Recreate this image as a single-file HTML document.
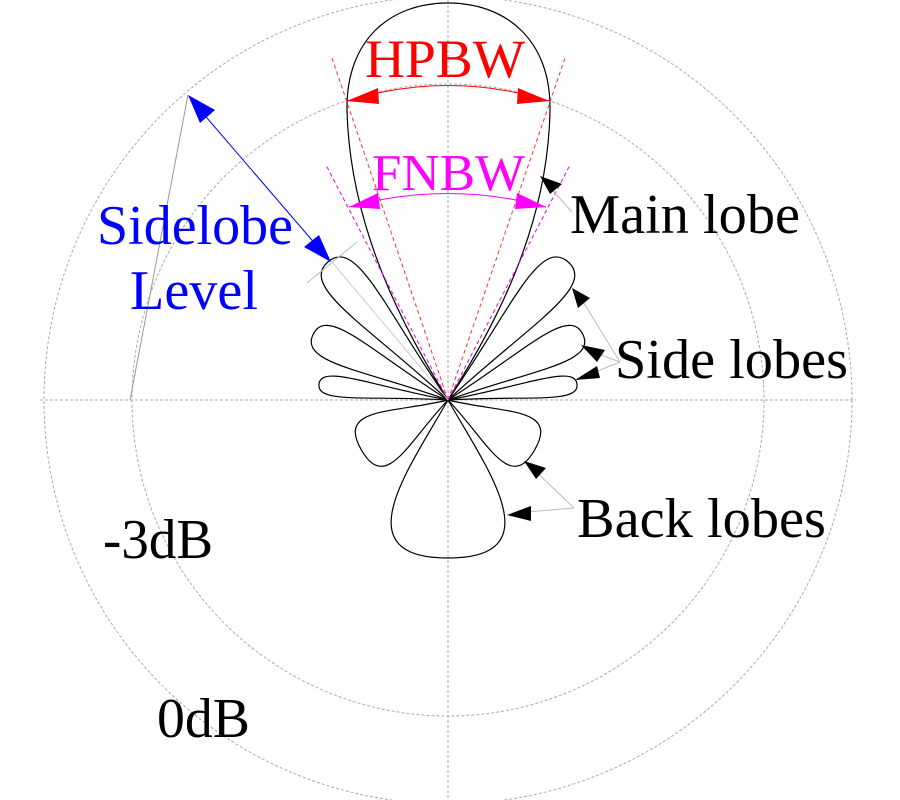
<!DOCTYPE html>
<html><head><meta charset="utf-8"><style>
html,body{margin:0;padding:0;background:#fff;}
svg{display:block;}
text{font-family:"Liberation Serif",serif;}
</style></head><body>
<svg width="900" height="800" viewBox="0 0 900 800" xmlns="http://www.w3.org/2000/svg">
<g fill="none" stroke="#aaa" stroke-width="1" stroke-dasharray="3,2">
<circle cx="448" cy="400" r="404"/>
<circle cx="448" cy="400" r="316"/>
<line x1="40" y1="400" x2="856" y2="400"/>
<line x1="448" y1="0" x2="448" y2="800"/>
</g>
<g fill="none" stroke="#000" stroke-width="1.2">
<path d="M448,400 C405,330 350,230 347,110 C346,40 390,3 448,3 C506,3 551,40 550,110 C548,230 492,330 448,400 Z"/>
<g transform="translate(448,400)">
<path transform="rotate(-131)" d="M0,0 C110,-12 183,-38 183,0 C183,38 110,12 0,0Z"/>
<path transform="rotate(-49)" d="M0,0 C110,-12 183,-38 183,0 C183,38 110,12 0,0Z"/>
<path transform="rotate(-154)" d="M0,0 C90,-10 150,-32 150,0 C150,32 90,10 0,0Z"/>
<path transform="rotate(-26)" d="M0,0 C90,-10 150,-32 150,0 C150,32 90,10 0,0Z"/>
<path transform="rotate(-173)" d="M0,0 C80,-5 130,-20 130,0 C130,20 80,5 0,0Z"/>
<path transform="rotate(-7)" d="M0,0 C80,-5 130,-20 130,0 C130,20 80,5 0,0Z"/>
<path transform="rotate(150)" d="M0,0 C55,-16 100,-50 100,0 C100,50 55,16 0,0Z"/>
<path transform="rotate(30)" d="M0,0 C55,-16 100,-50 100,0 C100,50 55,16 0,0Z"/>
<path transform="rotate(90)" d="M0,0 C70,-40 158,-105 158,0 C158,105 70,40 0,0Z"/>
</g>
</g>
<g fill="none" stroke-width="1" stroke-dasharray="4,3">
<line x1="448" y1="400" x2="332" y2="58" stroke="#f33"/>
<line x1="448" y1="400" x2="565" y2="58" stroke="#f33"/>
<line x1="448" y1="400" x2="326" y2="165" stroke="#e0e"/>
<line x1="448" y1="400" x2="570" y2="165" stroke="#e0e"/>
</g>
<path d="M347,101 Q448,70 549,101" fill="none" stroke="#f00" stroke-width="1"/>
<path d="M347,101 L378,88 L379,104Z" fill="#f00"/>
<path d="M549,101 L518,88 L517,104Z" fill="#f00"/>
<text x="365" y="77" font-size="54" fill="#f00" textLength="160" lengthAdjust="spacingAndGlyphs">HPBW</text>
<path d="M349,207 Q448,180 546,207" fill="none" stroke="#f0f" stroke-width="1"/>
<path d="M349,207 L378,193 L380,209Z" fill="#f0f"/>
<path d="M546,207 L517,193 L515,209Z" fill="#f0f"/>
<text x="372" y="190" font-size="52" fill="#f0f" textLength="153" lengthAdjust="spacingAndGlyphs">FNBW</text>
<line x1="188" y1="95" x2="130" y2="400" stroke="#999" stroke-width="1"/>
<line x1="307" y1="283" x2="357" y2="242" stroke="#bbb" stroke-width="1"/>
<line x1="448" y1="400" x2="332" y2="262" stroke="#ccc" stroke-width="1"/>
<line x1="195" y1="104" x2="323" y2="253" stroke="#00f" stroke-width="1"/>
<path d="M188,95 L215,110 L200,123Z" fill="#00f"/>
<path d="M331,262 L304,247 L319,235Z" fill="#00f"/>
<text x="97" y="244" font-size="56" fill="#00f" textLength="196" lengthAdjust="spacingAndGlyphs">Sidelobe</text>
<text x="130" y="309" font-size="56" fill="#00f" textLength="128" lengthAdjust="spacingAndGlyphs">Level</text>
<g stroke="#bbb" stroke-width="1" fill="none">
<line x1="572" y1="212" x2="545" y2="182"/>
<line x1="620" y1="362" x2="577" y2="292"/>
<line x1="620" y1="362" x2="588" y2="350"/>
<line x1="620" y1="362" x2="583" y2="377"/>
<line x1="574" y1="508" x2="530" y2="466"/>
<line x1="574" y1="508" x2="515" y2="513"/>
</g>
<g fill="#000">
<path d="M540,176 L562,184 L550,194Z"/>
<path d="M572,288 L590,298 L578,308Z"/>
<path d="M581,345 L605,350 L597,362Z"/>
<path d="M575,380 L597,366 L600,378Z"/>
<path d="M524,461 L546,468 L536,479Z"/>
<path d="M507,515 L531,506 L531,521Z"/>
</g>
<text x="570" y="233" font-size="56" textLength="230" lengthAdjust="spacingAndGlyphs">Main lobe</text>
<text x="615" y="378" font-size="56" textLength="233" lengthAdjust="spacingAndGlyphs">Side lobes</text>
<text x="577" y="537" font-size="56" textLength="249" lengthAdjust="spacingAndGlyphs">Back lobes</text>
<text x="103" y="558" font-size="56" textLength="110" lengthAdjust="spacingAndGlyphs">-3dB</text>
<text x="157" y="737" font-size="56" textLength="93" lengthAdjust="spacingAndGlyphs">0dB</text>
</svg>
</body></html>
